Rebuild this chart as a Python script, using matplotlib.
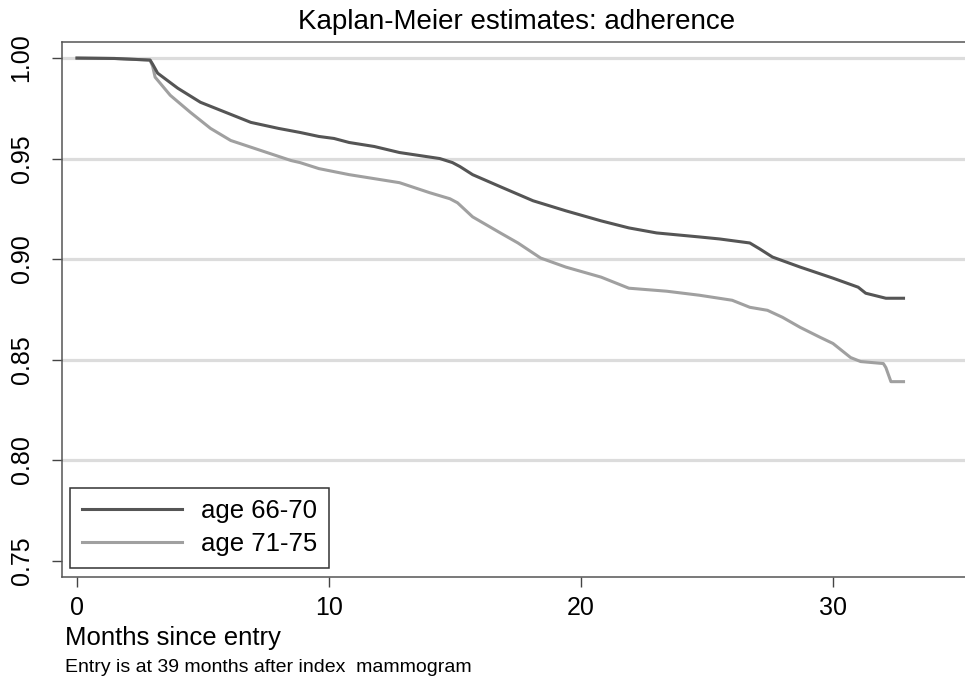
import matplotlib
matplotlib.use('Agg')
import matplotlib.pyplot as plt
import numpy as np

plt.rcParams['font.family'] = ['Liberation Sans', 'DejaVu Sans']

# ---- Kaplan-Meier estimates (months, survival) ----
months_6670 = [0, 1.5, 2.9, 3.0, 3.2, 4.0, 4.9, 5.7, 6.9, 8.0, 8.85, 9.6, 10.2, 10.8, 11.8,
               12.8, 14.4, 14.9, 15.2, 15.7, 16.8, 18.1, 19.4, 20.8, 21.9, 23.0, 24.7,
               25.5, 26.7, 27.1, 27.6, 28.7, 30.0, 31.0, 31.3, 32.1, 32.8]
surv_6670 = [1.0, 0.9998, 0.999, 0.997, 0.9925, 0.985, 0.978, 0.974, 0.968, 0.965, 0.963,
             0.961, 0.960, 0.958, 0.956, 0.953, 0.950, 0.948, 0.946, 0.942, 0.936, 0.929,
             0.924, 0.919, 0.9155, 0.913, 0.911, 0.910, 0.908, 0.905, 0.901, 0.896,
             0.8905, 0.886, 0.883, 0.8805, 0.8805]

months_7175 = [0, 1.5, 2.9, 3.0, 3.1, 3.3, 3.7, 4.5, 5.3, 6.1, 7.3, 8.5, 8.85, 9.6, 10.8,
               12.8, 14.0, 14.8, 15.1, 15.7, 16.8, 17.5, 18.4, 19.4, 20.8, 21.9, 23.4,
               24.7, 26.0, 26.7, 27.4, 28.0, 28.7, 29.5, 30.0, 30.7, 31.1, 32.0, 32.1,
               32.3, 32.8]
surv_7175 = [1.0, 0.9998, 0.999, 0.996, 0.9905, 0.9875, 0.9815, 0.973, 0.965, 0.959, 0.954,
             0.949, 0.948, 0.945, 0.942, 0.938, 0.933, 0.930, 0.928, 0.921, 0.913, 0.908,
             0.9005, 0.896, 0.891, 0.8855, 0.884, 0.882, 0.8795, 0.876, 0.8745, 0.871,
             0.866, 0.861, 0.858, 0.851, 0.849, 0.848, 0.846, 0.839, 0.839]

labels = ['age 66-70', 'age 71-75']
xticks = [0, 10, 20, 30]
yticks = [0.75, 0.80, 0.85, 0.90, 0.95, 1.00]
grid_y = [0.80, 0.85, 0.90, 0.95, 1.00]

fig = plt.figure(figsize=(9.65, 6.86), dpi=100)
ax = fig.add_axes([62 / 965, 1 - 577 / 686, 903 / 965, 535 / 686])

for g in grid_y:
    ax.axhline(g, color='#dcdcdc', lw=2.3, zorder=0)

ax.plot(months_6670, surv_6670, color='#555555', lw=2.2, label=labels[0], zorder=3)
ax.plot(months_7175, surv_7175, color='#a0a0a0', lw=2.2, label=labels[1], zorder=2)

ax.set_xlim(-0.595, 35.24)
ax.set_ylim(0.7418, 1.008)

ax.set_xticks(xticks)
ax.set_xticklabels([str(t) for t in xticks], fontsize=18)
ax.set_yticks(yticks)
ax.set_yticklabels(['%.2f' % t for t in yticks], fontsize=18, rotation=90, va='center')
ax.tick_params(axis='x', direction='out', length=7.5, width=1, color='#444444', pad=6)
ax.tick_params(axis='y', direction='out', length=7.5, width=1, color='#444444', pad=13)

for side in ['left', 'top', 'bottom']:
    ax.spines[side].set_color('#555555')
    ax.spines[side].set_linewidth(1.1)
ax.spines['right'].set_visible(False)

leg = ax.legend(loc='lower left', bbox_to_anchor=(0.0089, 0.0168), fontsize=18.5,
                frameon=True, fancybox=False, framealpha=1, edgecolor='#333333',
                handlelength=3.9, handletextpad=0.75, borderpad=0.45, labelspacing=0.35,
                borderaxespad=0)
leg.get_frame().set_linewidth(1.1)

fig.text(517 / 965, 1 - 22 / 686, 'Kaplan-Meier estimates: adherence', fontsize=20,
         ha='center', va='center')
fig.text(65 / 965, 1 - 638 / 686, 'Months since entry', fontsize=18.5, ha='left', va='center')
fig.text(65 / 965, 1 - 668 / 686, 'Entry is at 39 months after index  mammogram',
         fontsize=14, ha='left', va='center')

plt.savefig('out.png', dpi=100)
